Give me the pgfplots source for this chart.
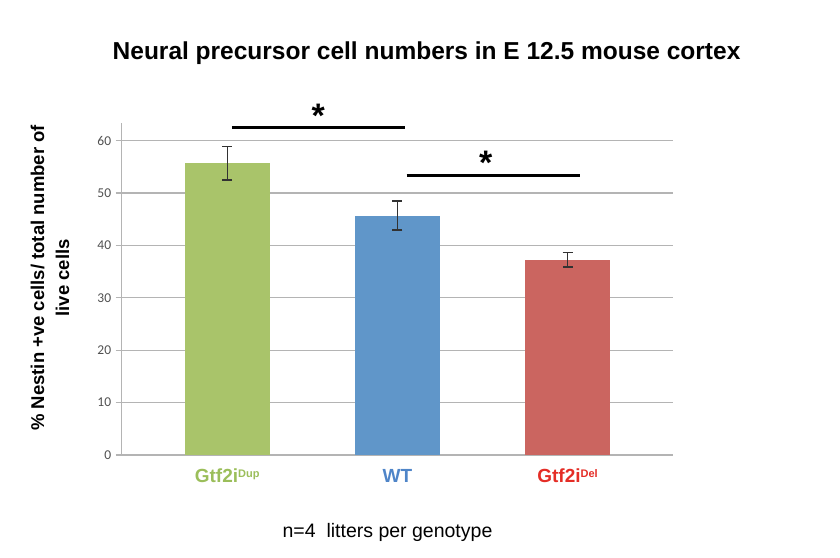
\documentclass[border=0pt]{standalone}
\usepackage{pgfplots}
\pgfplotsset{compat=1.18}
\usepackage{fontspec}
\setmainfont{Liberation Sans}
\newfontfamily\calibri{Carlito}
\definecolor{bargreen}{RGB}{169,196,106}
\definecolor{barblue}{RGB}{96,150,201}
\definecolor{barred}{RGB}{203,101,96}
\definecolor{labgreen}{RGB}{155,190,90}
\definecolor{labblue}{RGB}{79,133,200}
\definecolor{labred}{RGB}{228,45,38}
\definecolor{gridgray}{RGB}{180,180,180}
\definecolor{ticktext}{RGB}{80,80,80}
\definecolor{errgray}{RGB}{50,50,50}
\newcommand{\supx}[1]{\raisebox{5.7bp}{\fontsize{11bp}{11bp}\selectfont #1}}
\begin{document}
\begin{tikzpicture}[x=1bp,y=1bp]
\path[use as bounding box] (0,0) rectangle (840,558);
\begin{axis}[
  at={(121.7bp,103bp)}, anchor=south west,
  width=551.3bp, height=331.7bp, scale only axis,
  xmin=-0.62, xmax=2.62, ymin=0, ymax=63.3,
  axis lines=left,
  axis line style={-, draw=gridgray, line width=1.3bp},
  ytick={0,10,20,30,40,50,60},
  ymajorgrids, grid style={gridgray, line width=1.2bp},
  tick align=outside, major tick length=6bp,
  y tick style={draw=gridgray, line width=1.2bp},
  xtick={0,1,2}, x tick style={draw=none},
  xticklabels={\textcolor{labgreen}{Gtf2i\supx{Dup}},\textcolor{labblue}{WT},\textcolor{labred}{Gtf2i\supx{Del}}},
  x tick label style={font=\bfseries\fontsize{19bp}{22bp}\selectfont, anchor=base, yshift=-22bp},
  y tick label style={font=\calibri\fontsize{13.5bp}{16bp}\selectfont, text=ticktext, xshift=-1bp},
  /pgf/number format/assume math mode=true,
  clip=false,
  title={Neural precursor cell numbers in E 12.5 mouse cortex},
  title style={at={(rel axis cs:0.553,1.173)}, anchor=base, font=\bfseries\fontsize{24.5bp}{28bp}\selectfont},
  ylabel={\% Nestin +ve cells/ total number of\\live cells},
  ylabel style={at={(rel axis cs:-0.130,0.534)}, anchor=center, align=center, font=\bfseries\fontsize{18.5bp}{25bp}\selectfont},
]
\addplot[ybar, bar width=85bp, bar shift=0pt, fill=bargreen, draw=none,
  error bars/.cd, y dir=both, y explicit,
  error bar style={errgray, line width=1.3bp},
  error mark options={errgray, line width=1.3bp, rotate=90, mark size=5bp}]
  coordinates {(0,55.7) +- (0,3.2)};
\addplot[ybar, bar width=85bp, bar shift=0pt, fill=barblue, draw=none,
  error bars/.cd, y dir=both, y explicit,
  error bar style={errgray, line width=1.3bp},
  error mark options={errgray, line width=1.3bp, rotate=90, mark size=5bp}]
  coordinates {(1,45.7) +- (0,2.75)};
\addplot[ybar, bar width=85bp, bar shift=0pt, fill=barred, draw=none,
  error bars/.cd, y dir=both, y explicit,
  error bar style={errgray, line width=1.3bp},
  error mark options={errgray, line width=1.3bp, rotate=90, mark size=5bp}]
  coordinates {(2,37.3) +- (0,1.4)};
\addplot[black, line width=3.2bp, no markers] coordinates {(0.028,62.5) (1.045,62.5)};
\addplot[black, line width=3.2bp, no markers] coordinates {(1.055,53.3) (2.073,53.3)};
\node[anchor=base, font=\bfseries\fontsize{34bp}{34bp}\selectfont] at (axis cs:0.535,62.4) {*};
\node[anchor=base, font=\bfseries\fontsize{34bp}{34bp}\selectfont] at (axis cs:1.52,53.6) {*};
\end{axis}
\node[anchor=base, font=\fontsize{19.5bp}{22bp}\selectfont] at (387.5,20) {n=4\ \ litters per genotype};
\end{tikzpicture}
\end{document}
